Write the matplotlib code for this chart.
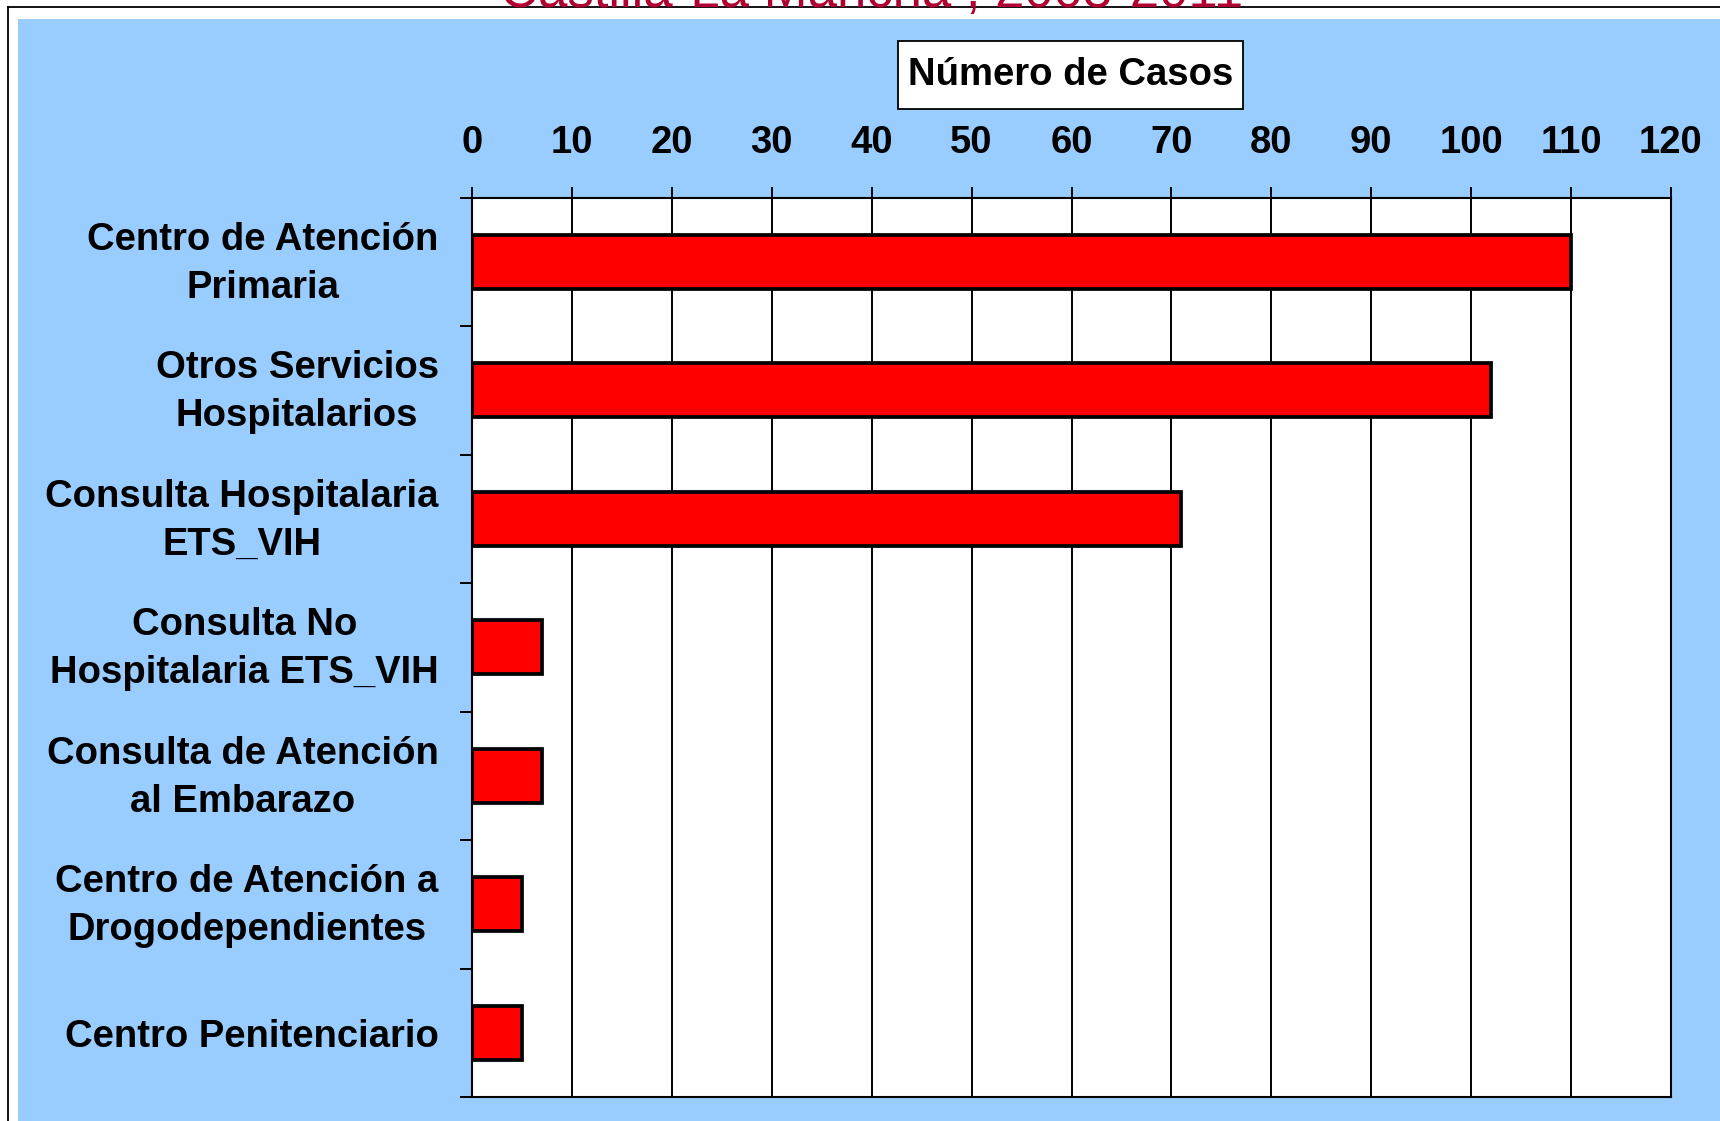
import matplotlib.pyplot as plt
import matplotlib.transforms as mtransforms
from matplotlib.patches import Rectangle
from matplotlib.lines import Line2D
from matplotlib.ticker import FixedLocator

plt.rcParams['font.family'] = ['Liberation Sans', 'DejaVu Sans']

# data
categorias = [
    "Centro de Atención\nPrimaria",
    "Otros Servicios\nHospitalarios",
    "Consulta Hospitalaria\nETS_VIH",
    "Consulta No\nHospitalaria ETS_VIH",
    "Consulta de Atención\nal Embarazo",
    "Centro de Atención a\nDrogodependientes",
    "Centro Penitenciario",
]
casos = [110, 102, 71, 7, 7, 5, 5]
x_ticks = list(range(0, 121, 10))
titulo = "Castilla-La Mancha , 2003-2011"
etiqueta_eje = "Número de Casos"

W, H = 1720, 1121
fig = plt.figure(figsize=(W / 100, H / 100), dpi=100, facecolor='white')

# blue panel and outer frame
fig.patches.append(Rectangle((18 / W, 0), 1 - 18 / W, 1 - 19 / H,
                             transform=fig.transFigure, facecolor='#99CCFF',
                             edgecolor='none', zorder=-5))
fig.lines.append(Line2D([8 / W, 1], [1 - 7.3 / H, 1 - 7.3 / H],
                        transform=fig.transFigure, color='black', lw=1.3))
fig.lines.append(Line2D([8 / W, 8 / W], [0, 1 - 7.3 / H],
                        transform=fig.transFigure, color='black', lw=1.3))

# title, mostly cut off at the top like the reference
fig.text(872 / W, 1 - 7 / H, titulo, ha='center', va='baseline',
         fontsize=38, color='#B00030')

left, right = 472 / W, 1671 / W
top, bottom = 1 - 197.5 / H, 1 - 1097 / H
ax = fig.add_axes([left, bottom, right - left, top - bottom], zorder=2)
ax.set_facecolor('white')

pos = [i + 0.5 for i in range(len(categorias))]
ax.barh(pos, casos, height=0.42, color='#FF0000', edgecolor='black',
        linewidth=2.7, zorder=3)

ax.set_xlim(0, 120)
ax.set_ylim(len(categorias), 0)

ax.xaxis.tick_top()
ax.set_xticks(x_ticks)
ax.set_xticklabels([str(t) for t in x_ticks], fontsize=27.5, fontweight='bold')
ax.tick_params(axis='x', direction='out', length=8, width=1.4, pad=18)
ax.grid(axis='x', color='black', linewidth=1.4, zorder=1)
ax.set_axisbelow(True)

ax.set_yticks(pos)
ax.set_yticklabels(categorias, fontsize=27.5, fontweight='bold',
                   multialignment='center', linespacing=1.42)
ax.tick_params(axis='y', which='major', length=0, pad=24)
ax.yaxis.set_minor_locator(FixedLocator(range(len(categorias) + 1)))
ax.tick_params(axis='y', which='minor', direction='out', length=8.5, width=1.4)

# two-line labels sit a little higher in the reference
shift = mtransforms.ScaledTranslation(0, 8 / 100, fig.dpi_scale_trans)
for lab in ax.get_yticklabels():
    if "\n" in lab.get_text():
        lab.set_transform(lab.get_transform() + shift)

for s in ax.spines.values():
    s.set_color('black')
    s.set_linewidth(1.5)

# axis title box
fig.patches.append(Rectangle((898 / W, 1 - 109 / H), 345 / W, 68 / H,
                             transform=fig.transFigure, facecolor='white',
                             edgecolor='black', linewidth=1.3, zorder=2))
fig.text(1071 / W, 1 - 75 / H, etiqueta_eje, ha='center', va='center',
         fontsize=27.5, fontweight='bold', zorder=3)

fig.savefig('out.png', dpi=100, facecolor=fig.get_facecolor())
